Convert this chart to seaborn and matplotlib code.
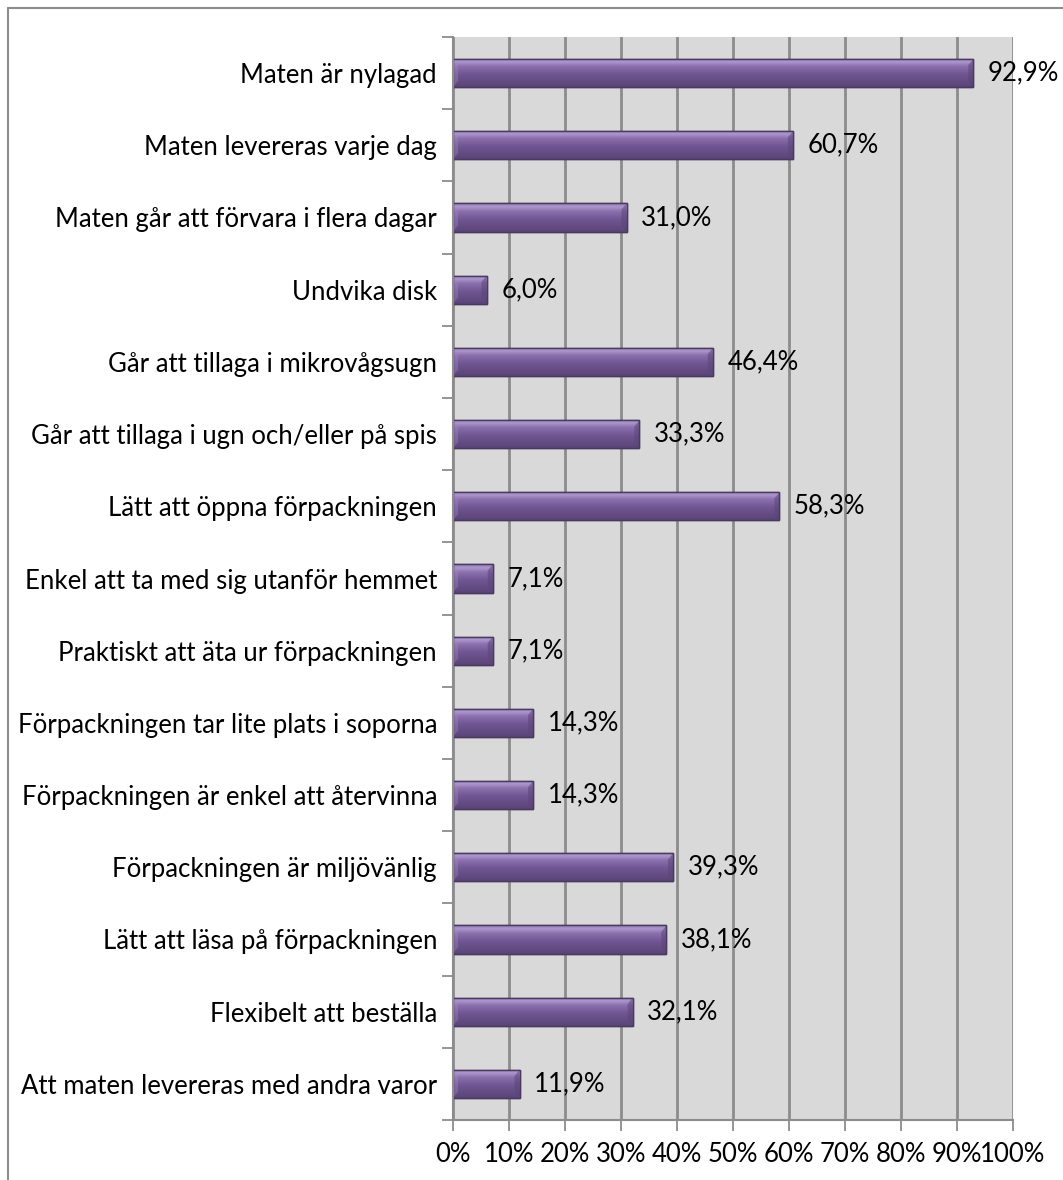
import numpy as np
import pandas as pd
import matplotlib
matplotlib.use("Agg")
import matplotlib.pyplot as plt
import seaborn as sns
from matplotlib.colors import LinearSegmentedColormap
from matplotlib.lines import Line2D
from matplotlib.ticker import FixedLocator, FuncFormatter

categories = [
    "Maten är nylagad",
    "Maten levereras varje dag",
    "Maten går att förvara i flera dagar",
    "Undvika disk",
    "Går att tillaga i mikrovågsugn",
    "Går att tillaga i ugn och/eller på spis",
    "Lätt att öppna förpackningen",
    "Enkel att ta med sig utanför hemmet",
    "Praktiskt att äta ur förpackningen",
    "Förpackningen tar lite plats i soporna",
    "Förpackningen är enkel att återvinna",
    "Förpackningen är miljövänlig",
    "Lätt att läsa på förpackningen",
    "Flexibelt att beställa",
    "Att maten levereras med andra varor",
]
values = [92.9, 60.7, 31.0, 6.0, 46.4, 33.3, 58.3, 7.1, 7.1, 14.3, 14.3, 39.3, 38.1, 32.1, 11.9]
x_ticks = [0, 10, 20, 30, 40, 50, 60, 70, 80, 90, 100]

df = pd.DataFrame({"kategori": categories, "andel": values})

sns.set_theme(style="white")
plt.rcParams["font.family"] = ["Lato", "DejaVu Sans"]
FS = 18.5

fig = plt.figure(figsize=(10.63, 11.80), dpi=100)
ax = fig.add_axes([453 / 1063, 1 - 1120 / 1180, 560 / 1063, (1120 - 37) / 1180])
ax.set_facecolor("#d9d9d9")

sns.barplot(data=df, x="andel", y="kategori", ax=ax, color="#6b5189",
            width=0.39, edgecolor="#4a3a62", linewidth=1.0, zorder=3)

# vertical gradient across each bar
grad_cmap = LinearSegmentedColormap.from_list(
    "bar", [(0.0, "#8e78b0"), (0.12, "#ad98cd"), (0.28, "#8b70ad"),
            (0.55, "#715694"), (1.0, "#5a4576")])
grad = np.linspace(0, 1, 64).reshape(-1, 1)
for p in ax.patches:
    x0, y0, w, h = p.get_x(), p.get_y(), p.get_width(), p.get_height()
    im = ax.imshow(grad, cmap=grad_cmap, aspect="auto", origin="upper",
                   extent=(x0, x0 + w, y0 + h, y0), zorder=3.5,
                   interpolation="bilinear")
    im.set_clip_path(p)
    # bevelled ends
    bev = min(0.9, w * 0.3)
    ax.fill([x0 + w - bev, x0 + w, x0 + w, x0 + w - bev],
            [y0 + h * 0.22, y0, y0 + h, y0 + h * 0.78],
            color="#5b4578", alpha=0.55, zorder=3.6, lw=0)
    ax.fill([x0, x0 + bev, x0 + bev, x0],
            [y0, y0 + h * 0.22, y0 + h * 0.78, y0 + h],
            color="#a48fc4", alpha=0.35, zorder=3.6, lw=0)
    ax.add_patch(plt.Rectangle((x0, y0), w, h, fill=False,
                               edgecolor="#4a3a62", lw=1.0, zorder=3.7))

ax.set_xlim(0, 100)
ax.set_ylim(len(categories) - 0.5, -0.5)

ax.xaxis.set_major_locator(FixedLocator(x_ticks))
ax.xaxis.set_major_formatter(FuncFormatter(lambda v, _: f"{int(v)}%"))
ax.grid(axis="x", color="#8c8c8c", linewidth=2.0, zorder=1)
ax.grid(axis="y", visible=False)

ax.set_yticks(range(len(categories)))
ax.set_yticklabels(categories)
ax.yaxis.set_minor_locator(FixedLocator(np.arange(-0.5, len(categories), 1.0)))
ax.tick_params(axis="y", which="major", length=0, pad=11.5, labelsize=FS, colors="#000000")
ax.tick_params(axis="y", which="minor", left=True, length=8, width=1.3, color="#8c8c8c")
ax.tick_params(axis="x", which="major", bottom=True, length=8, width=1.3, color="#8c8c8c",
               pad=8, labelsize=FS, labelcolor="#000000")
ax.set_xlabel("")
ax.set_ylabel("")

for side in ["top", "right"]:
    ax.spines[side].set_visible(False)
for side in ["left", "bottom"]:
    ax.spines[side].set_color("#8c8c8c")
    ax.spines[side].set_linewidth(1.5)
    ax.spines[side].set_zorder(4)

for i, v in enumerate(values):
    ax.text(v + 2.6, i, f"{v:.1f}%".replace(".", ","), va="center", ha="left",
            fontsize=FS, color="#000000", zorder=5)

# chart frame
fig.add_artist(Line2D([8 / 1063, 1.0], [1 - 8 / 1180, 1 - 8 / 1180],
                      color="#8c8c8c", linewidth=1.5))
fig.add_artist(Line2D([8 / 1063, 8 / 1063], [0.0, 1 - 8 / 1180],
                      color="#8c8c8c", linewidth=1.5))

fig.savefig("out.png", dpi=100)
